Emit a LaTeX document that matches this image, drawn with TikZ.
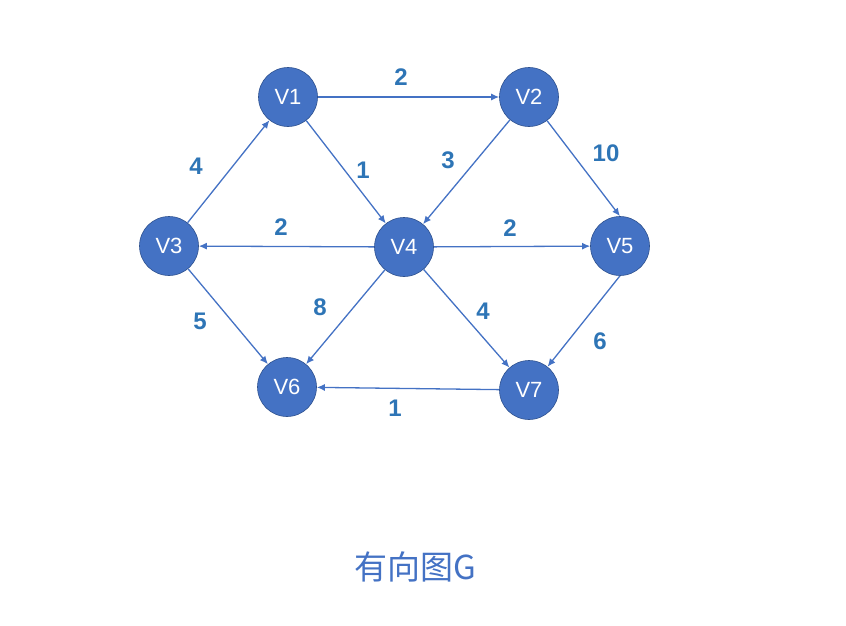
\documentclass[tikz,border=0pt]{standalone}
\usepackage{fontspec}
\setmainfont{Liberation Sans}
\newfontfamily\cjkfont{Noto Sans CJK SC}
\usetikzlibrary{arrows.meta}
\definecolor{nodeblue}{HTML}{4472C4}
\definecolor{rimblue}{HTML}{2F528F}
\definecolor{weightblue}{HTML}{2E75B6}
\tikzset{
    vertex/.style={circle, fill=nodeblue, draw=rimblue, line width=0.6pt, minimum size=59pt, inner sep=0pt, text=white, font=\fontsize{22}{22}\selectfont},
    edge/.style={draw=nodeblue, line width=1.3pt, -{Latex[length=8pt,width=7pt]}},
    weight/.style={text=weightblue, font=\fontsize{24}{24}\selectfont\bfseries}
}
\begin{document}
\begin{tikzpicture}[x=1pt, y=-1pt]
    % keep the margins of the reference
    \useasboundingbox (0,0) rectangle (846,626);

    % vertices
    \node[vertex] (v1) at (288,97) {V1};
    \node[vertex] (v2) at (529,97) {V2};
    \node[vertex] (v3) at (169,246) {V3};
    \node[vertex] (v4) at (404,247) {V4};
    \node[vertex] (v5) at (620,246) {V5};
    \node[vertex] (v6) at (287,387) {V6};
    \node[vertex] (v7) at (529,390) {V7};

    % directed edges
    \draw[edge] (v1) -- (v2);
    \draw[edge] (v1) -- (v4);
    \draw[edge] (v3) -- (v1);
    \draw[edge] (v2) -- (v4);
    \draw[edge] (v2) -- (v5.north);
    \draw[edge] (v4) -- (v3);
    \draw[edge] (v4) -- (v5);
    \draw[edge] (v3) -- (v6);
    \draw[edge] (v4) -- (v6);
    \draw[edge] (v4) -- (v7);
    \draw[edge] (v5.south) -- (v7);
    \draw[edge] (v7) -- (v6);

    % weights
    \node[weight] (w12) at (401,77) {2};
    \node[weight] (w14) at (363,170) {1};
    \node[weight] (w31) at (196,166) {4};
    \node[weight] (w24) at (448,160) {3};
    \node[weight] (w25) at (606,153) {10};
    \node[weight] (w43) at (281,227) {2};
    \node[weight] (w45) at (510,228) {2};
    \node[weight] (w36) at (200,321) {5};
    \node[weight] (w46) at (320,307) {8};
    \node[weight] (w47) at (483,311) {4};
    \node[weight] (w57) at (600,341) {6};
    \node[weight] (w76) at (395,408) {1};

    % caption
    \node[text=nodeblue, font=\cjkfont\fontsize{33}{33}\selectfont] (title) at (415,567) {有向图G};
\end{tikzpicture}
\end{document}
